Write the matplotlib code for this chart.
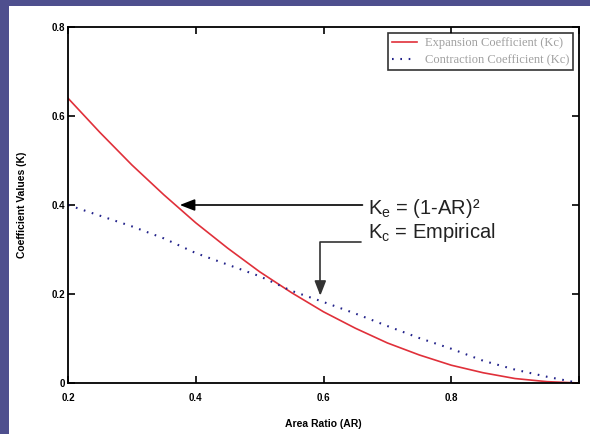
import numpy as np
import matplotlib
matplotlib.use("Agg")
import matplotlib.pyplot as plt
from matplotlib.patches import Rectangle

plt.rcParams['font.family'] = ['Liberation Sans', 'DejaVu Sans']

# data
area_ratio = [0.20, 0.25, 0.30, 0.35, 0.40, 0.45, 0.50, 0.55, 0.60,
              0.65, 0.70, 0.75, 0.80, 0.85, 0.90, 0.95, 1.00]
k_expansion = [0.640, 0.563, 0.490, 0.423, 0.360, 0.303, 0.250, 0.203, 0.160,
               0.123, 0.090, 0.063, 0.040, 0.023, 0.010, 0.003, 0.000]
k_contraction = [0.400, 0.376, 0.352, 0.325, 0.292, 0.266, 0.240, 0.207, 0.182,
                 0.156, 0.128, 0.101, 0.077, 0.050, 0.030, 0.014, 0.000]

x_ticks = [0.2, 0.4, 0.6, 0.8, 1.0]
x_ticklabels = ['0.2', '0.4', '0.6', '0.8', '']
y_ticks = [0, 0.2, 0.4, 0.6, 0.8]
y_ticklabels = ['0', '0.2', '0.4', '0.6', '0.8']

fig = plt.figure(figsize=(5.9, 4.34), dpi=100)
fig.patch.set_facecolor('#4e4f8e')
# white slide area
fig.add_artist(Rectangle((9 / 590, 0), 1, (434 - 6) / 434,
                         transform=fig.transFigure, facecolor='white',
                         edgecolor='none', zorder=0))

ax = fig.add_axes([68 / 590, 51 / 434, 511 / 590, 356 / 434])

ax.plot(area_ratio, k_expansion, color='#e0303a', lw=1.2,
        label='Expansion Coefficient (Kc)')
ax.plot(area_ratio, k_contraction, color='#22228a', lw=1.5,
        linestyle=(0, (0.8, 3.2)), label='Contraction Coefficient (Kc)')

ax.set_xlim(0.2, 1.0)
ax.set_ylim(0, 0.8)
ax.set_xticks(x_ticks)
ax.set_xticklabels(x_ticklabels)
ax.set_yticks(y_ticks)
ax.set_yticklabels(y_ticklabels)
ax.tick_params(direction='in', length=5, width=1.2, top=True, right=True,
               labelsize=7)
ax.tick_params(axis='x', pad=7)
ax.tick_params(axis='y', pad=2)
for lab in ax.get_xticklabels() + ax.get_yticklabels():
    lab.set_fontweight('bold')
for sp in ax.spines.values():
    sp.set_linewidth(1.3)

ax.set_xlabel('Area Ratio (AR)', fontsize=7.5, fontweight='bold', labelpad=12)
ax.set_ylabel('Coefficient Values (K)', fontsize=7.5, fontweight='bold', labelpad=18)

leg = ax.legend(loc='upper right', frameon=True, fancybox=False,
                handlelength=2.0, handletextpad=0.6, borderaxespad=0.5,
                borderpad=0.3, labelspacing=0.45,
                prop={'family': 'Liberation Serif', 'size': 9})
leg.get_frame().set_edgecolor('black')
leg.get_frame().set_linewidth(1.2)
for t in leg.get_texts():
    t.set_color('#a0a0a0')

# annotations
ax.annotate('', xy=(0.375, 0.40), xytext=(0.661, 0.40),
            arrowprops=dict(arrowstyle='-|>,head_length=0.9,head_width=0.35',
                            color='black', lw=1.2, shrinkA=0, shrinkB=0))
ax.text(0.669, 0.379, r'K$_\mathregular{e}$ = (1-AR)²',
        fontsize=14.5, color='#222222', va='baseline')

ax.annotate('', xy=(0.595, 0.196), xytext=(0.659, 0.317),
            arrowprops=dict(arrowstyle='-|>,head_length=0.9,head_width=0.35',
                            color='#333333', lw=1.2, shrinkA=0, shrinkB=0,
                            connectionstyle='angle,angleA=0,angleB=90,rad=0'))
ax.text(0.669, 0.326, r'K$_\mathregular{c}$ = Empirical',
        fontsize=14.5, color='#222222', va='baseline')

fig.savefig('out.png', dpi=100, facecolor=fig.get_facecolor())
